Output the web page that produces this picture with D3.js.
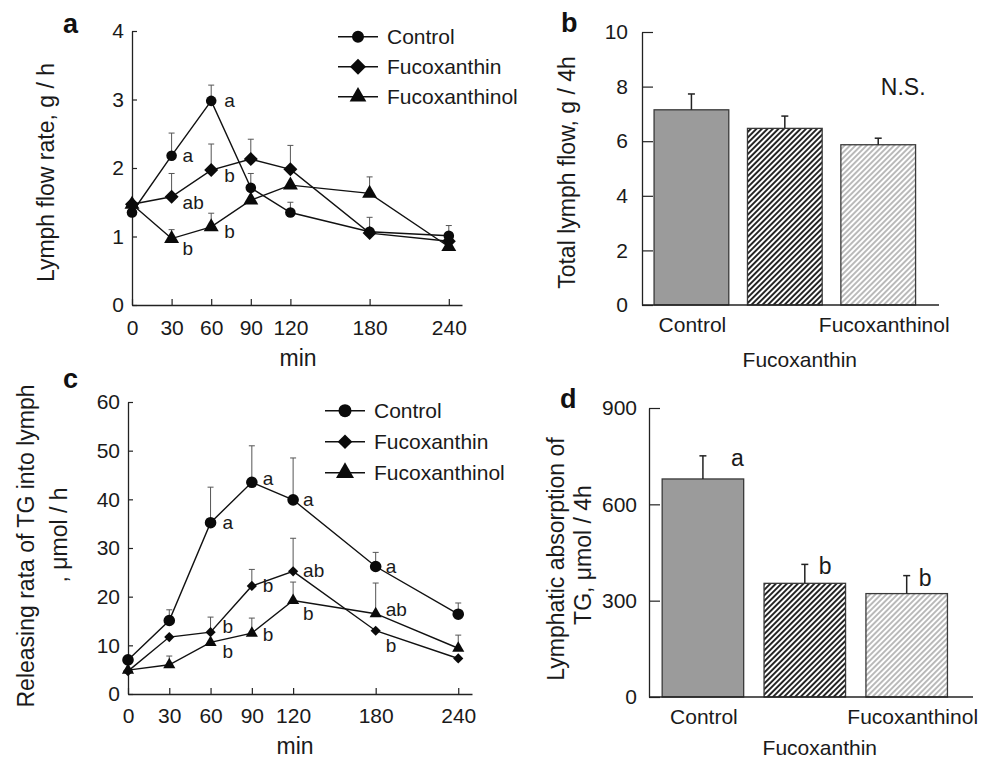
<!DOCTYPE html>
<html>
<head>
<meta charset="utf-8">
<script src="https://cdn.jsdelivr.net/npm/d3@7"></script>
<style>
  body { margin: 0; background: white; }
</style>
</head>
<body>
<div id="fig"></div>
<script>
// ---- data ----
var times = [0, 30, 60, 90, 120, 180, 240]
var groups = ["Control", "Fucoxanthin", "Fucoxanthinol"]

// a: lymph flow rate, g / h (mean and upper SE)
var flowControl = [1.35, 2.18, 2.98, 1.71, 1.35, 1.07, 1.01]
var flowControlSe = [0, 0.33, 0.23, 0.21, 0.15, 0, 0.15]
var flowFucox = [1.47, 1.58, 1.97, 2.13, 1.98, 1.05, 0.93]
var flowFucoxSe = [0, 0.34, 0.38, 0.29, 0.35, 0.23, 0]
var flowFucoxol = [1.47, 0.97, 1.14, 1.53, 1.75, 1.63, 0.85]
var flowFucoxolSe = [0, 0.13, 0.2, 0, 0, 0.24, 0]
var flowTicks = [0, 1, 2, 3, 4]
var flowLetters = [["Control", 30, "a"], ["Control", 60, "a"], ["Fucoxanthin", 30, "ab"],
                   ["Fucoxanthin", 60, "b"], ["Fucoxanthinol", 30, "b"], ["Fucoxanthinol", 60, "b"]]

// b: total lymph flow, g / 4h
var totalFlow = [7.15, 6.47, 5.87]
var totalFlowSe = [0.58, 0.45, 0.24]
var totalTicks = [0, 2, 4, 6, 8, 10]

// c: releasing rate of TG into lymph, umol / h
var tgControl = [7.0, 15.1, 35.2, 43.5, 39.9, 26.2, 16.4]
var tgControlSe = [0, 2.2, 7.3, 7.5, 8.6, 2.9, 2.3]
var tgFucox = [4.7, 11.7, 12.7, 22.2, 25.2, 13.0, 7.3]
var tgFucoxSe = [0, 0, 3.1, 3.4, 6.8, 0, 0]
var tgFucoxol = [4.9, 6.0, 10.6, 12.5, 19.2, 16.5, 9.4]
var tgFucoxolSe = [0, 1.8, 0, 3.1, 3.8, 6.3, 2.7]
var tgTicks = [0, 10, 20, 30, 40, 50, 60]
var tgLetters = [["Control", 60, "a"], ["Control", 90, "a"], ["Control", 120, "a"], ["Control", 180, "a"],
                 ["Fucoxanthin", 60, "b"], ["Fucoxanthin", 90, "b"], ["Fucoxanthin", 120, "ab"], ["Fucoxanthin", 180, "b"],
                 ["Fucoxanthinol", 60, "b"], ["Fucoxanthinol", 90, "b"], ["Fucoxanthinol", 120, "b"], ["Fucoxanthinol", 180, "ab"]]

// d: lymphatic absorption of TG, umol / 4h
var tgAbsorb = [679, 354, 322]
var tgAbsorbSe = [72, 59, 56]
var absorbTicks = [0, 300, 600, 900]
var absorbLetters = ["a", "b", "b"]

// ---- drawing ----
var font = '"Liberation Sans", Arial, Helvetica, sans-serif'
var ink = "#1a1a1a"

var svg = d3.select("#fig")
  .append("svg")
    .attr("width", 992)
    .attr("height", 760)
    .style("background-color", "white")

var defs = svg.append("defs")
function hatch(id, color) {
  var p = defs.append("pattern")
      .attr("id", id)
      .attr("patternUnits", "userSpaceOnUse")
      .attr("width", 3.9)
      .attr("height", 10)
      .attr("patternTransform", "rotate(45)")
  p.append("rect").attr("width", 3.9).attr("height", 10).attr("fill", "white")
  p.append("line").attr("x1", 1.95).attr("x2", 1.95).attr("y1", 0).attr("y2", 10)
      .attr("stroke", color).attr("stroke-width", 1.9)
}
hatch("hatchDark", "#1e1e1e")
hatch("hatchLight", "#b8b8b8")

var barFills = ["#9b9b9b", "url(#hatchDark)", "url(#hatchLight)"]

function styleAxis(g, size) {
  g.select(".domain").attr("stroke", "#222").attr("stroke-width", 1.3)
  g.selectAll(".tick line").attr("stroke", "#222").attr("stroke-width", 1.2)
  g.selectAll(".tick text").attr("font-size", size).attr("font-family", font).attr("fill", ink)
}

// area is the symbol area in px^2
function drawMarker(sel, shape, area) {
  if (shape == "circle") {
    sel.append("path").attr("d", d3.symbol(d3.symbolCircle, area)())
  } else if (shape == "diamond") {
    sel.append("path").attr("d", d3.symbol(d3.symbolSquare, area)()).attr("transform", "rotate(45)")
  } else {
    sel.append("path").attr("d", d3.symbol(d3.symbolTriangle, area)())
  }
}

function panelLabel(t, x, y) {
  svg.append("text").attr("x", x).attr("y", y).text(t)
    .attr("font-family", font).attr("font-weight", "bold").attr("font-size", 27).attr("fill", "#111")
}

function yTitle(lines, x, y, size) {
  lines.forEach(function(l, i) {
    svg.append("text")
      .attr("transform", "translate(" + x[i] + "," + y[i] + ") rotate(-90)")
      .attr("text-anchor", "middle")
      .attr("font-family", font).attr("font-size", size).attr("fill", ink)
      .text(l)
  })
}

// line chart panel
function linePanel(o) {
  var x = d3.scaleLinear().domain([0, 250]).range(o.xr)
  var y = d3.scaleLinear().domain([0, o.ymax]).range(o.yr)
  var g = svg.append("g")

  g.append("g").attr("transform", "translate(0," + y(0) + ")")
    .call(d3.axisBottom(x).tickValues(times).tickFormat(d3.format("d")).tickSizeInner(-6).tickSizeOuter(0).tickPadding(o.xpad))
    .call(styleAxis, 21)
  g.append("g").attr("transform", "translate(" + x(0) + ",0)")
    .call(d3.axisLeft(y).tickValues(o.yticks).tickFormat(d3.format("d")).tickSizeInner(-5).tickSizeOuter(0).tickPadding(8))
    .call(styleAxis, 21)

  var line = d3.line().x(function(d) { return x(d[0]) }).y(function(d) { return y(d[1]) })

  o.series.forEach(function(s) {
    var pts = times.map(function(t, i) { return [t, s.values[i], s.se[i]] })
    // error bars (upper only)
    pts.filter(function(d) { return d[2] > 0 }).forEach(function(d) {
      g.append("line").attr("x1", x(d[0])).attr("x2", x(d[0]))
        .attr("y1", y(d[1])).attr("y2", y(d[1] + d[2]))
        .attr("stroke", "#555").attr("stroke-width", 1)
      g.append("line").attr("x1", x(d[0]) - 3).attr("x2", x(d[0]) + 3)
        .attr("y1", y(d[1] + d[2])).attr("y2", y(d[1] + d[2]))
        .attr("stroke", "#555").attr("stroke-width", 1)
    })
    g.append("path").datum(pts).attr("d", line)
      .attr("fill", "none").attr("stroke", "#111").attr("stroke-width", 1.4)
  })
  o.series.forEach(function(s, k) {
    times.forEach(function(t, i) {
      var m = g.append("g").attr("transform", "translate(" + x(t) + "," + y(s.values[i]) + ")").attr("fill", "#0a0a0a")
      drawMarker(m, s.shape, o.markerArea[k])
    })
  })

  // significance letters
  o.letters.forEach(function(l, k) {
    var s = o.series.filter(function(d) { return d.name == l[0] })[0]
    var i = times.indexOf(l[1])
    g.append("text")
      .attr("x", x(l[1]) + o.nudges[k][0])
      .attr("y", y(s.values[i]) + o.nudges[k][1])
      .attr("dy", "0.32em")
      .attr("font-family", font).attr("font-size", 19).attr("fill", ink)
      .text(l[2])
  })

  // legend
  o.series.forEach(function(s, i) {
    var ly = o.legend.y + i * o.legend.step
    g.append("line").attr("x1", o.legend.x).attr("x2", o.legend.x + 40).attr("y1", ly).attr("y2", ly)
      .attr("stroke", "#111").attr("stroke-width", 1.4)
    var m = g.append("g").attr("transform", "translate(" + (o.legend.x + 20) + "," + ly + ")").attr("fill", "#0a0a0a")
    drawMarker(m, s.shape, o.legendArea[i])
    g.append("text").attr("x", o.legend.x + 49).attr("y", ly).attr("dy", "0.35em")
      .attr("font-family", font).attr("font-size", 21).attr("fill", ink)
      .text(s.name)
  })

  g.append("text").attr("x", o.xtitle[0]).attr("y", o.xtitle[1]).attr("text-anchor", "middle")
    .attr("font-family", font).attr("font-size", 23).attr("fill", ink).text("min")
}

// bar chart panel
function barPanel(o) {
  var x = d3.scaleBand().domain(groups).range(o.xr).paddingInner(0.2).paddingOuter(0.19).align(0.34)
  var y = d3.scaleLinear().domain([0, o.ymax]).range(o.yr)
  var g = svg.append("g")

  g.selectAll("rect.bar")
    .data(groups)
    .enter()
    .append("rect")
      .attr("class", "bar")
      .attr("x", function(d) { return x(d) })
      .attr("width", x.bandwidth())
      .attr("y", function(d, i) { return y(o.values[i]) })
      .attr("height", function(d, i) { return y(0) - y(o.values[i]) })
      .attr("fill", function(d, i) { return barFills[i] })
      .attr("stroke", "#3a3a3a")
      .attr("stroke-width", 1.3)

  groups.forEach(function(d, i) {
    var cx = x(d) + x.bandwidth() / 2
    var top = y(o.values[i] + o.se[i])
    g.append("line").attr("x1", cx).attr("x2", cx).attr("y1", y(o.values[i])).attr("y2", top)
      .attr("stroke", "#222").attr("stroke-width", 1.5)
    g.append("line").attr("x1", cx - 3.5).attr("x2", cx + 3.5).attr("y1", top).attr("y2", top)
      .attr("stroke", "#222").attr("stroke-width", 1.5)
    if (o.letters) {
      g.append("text").attr("x", cx + o.letterDx[i]).attr("y", top + 10)
        .attr("font-family", font).attr("font-size", 23).attr("fill", ink).text(o.letters[i])
    }
  })

  g.append("g").attr("transform", "translate(" + o.xr[0] + ",0)")
    .call(d3.axisLeft(y).tickValues(o.yticks).tickFormat(d3.format("d")).tickSizeInner(-11).tickSizeOuter(0).tickPadding(o.ypad))
    .call(styleAxis, 21)
  g.append("line").attr("x1", o.xr[0]).attr("x2", o.xr[1]).attr("y1", y(0)).attr("y2", y(0))
    .attr("stroke", "#222").attr("stroke-width", 1.3)

  // category labels, middle one on a second row
  var labelDx = [1, 15, 6]
  groups.forEach(function(d, i) {
    g.append("text")
      .attr("x", x(d) + x.bandwidth() / 2 + labelDx[i])
      .attr("y", y(0) + (i == 1 ? o.row2 : 27))
      .attr("text-anchor", "middle")
      .attr("font-family", font).attr("font-size", 21).attr("fill", ink)
      .text(d)
  })
  return { x: x, y: y, g: g }
}

// ---- panel a ----
linePanel({
  xr: [132, 462], yr: [305, 31], ymax: 4, yticks: flowTicks, xpad: 15,
  markerArea: [88, 98, 97], legendArea: [113, 128, 121],
  series: [
    { name: "Control", shape: "circle", values: flowControl, se: flowControlSe },
    { name: "Fucoxanthin", shape: "diamond", values: flowFucox, se: flowFucoxSe },
    { name: "Fucoxanthinol", shape: "triangle", values: flowFucoxol, se: flowFucoxolSe }
  ],
  letters: flowLetters,
  nudges: [[11, 0], [13, 0], [11, 6], [13, 6], [11, 10], [13, 5]],
  legend: { x: 338, y: 36.7, step: 30 },
  xtitle: [298, 366]
})
panelLabel("a", 63, 33)
yTitle(["Lymph flow rate, g / h"], [53.5], [172.5], 23)

// ---- panel b ----
var pb = barPanel({
  xr: [642, 939], yr: [305, 32], ymax: 10, yticks: totalTicks, ypad: 14,
  values: totalFlow, se: totalFlowSe, row2: 62
})
pb.g.append("text").attr("x", pb.x("Fucoxanthinol") + pb.x.bandwidth() / 2 + 25).attr("y", pb.y(8))
  .attr("dy", "0.35em").attr("text-anchor", "middle")
  .attr("font-family", font).attr("font-size", 23).attr("fill", ink).text("N.S.")
panelLabel("b", 561, 32)
yTitle(["Total lymph flow, g / 4h"], [575], [172.5], 23)

// ---- panel c ----
linePanel({
  xr: [128, 472], yr: [694, 402], ymax: 60, yticks: tgTicks, xpad: 14,
  markerArea: [106, 52, 64], legendArea: [133, 107, 140],
  series: [
    { name: "Control", shape: "circle", values: tgControl, se: tgControlSe },
    { name: "Fucoxanthin", shape: "diamond", values: tgFucox, se: tgFucoxSe },
    { name: "Fucoxanthinol", shape: "triangle", values: tgFucoxol, se: tgFucoxolSe }
  ],
  letters: tgLetters,
  nudges: [[12, 0], [11, -3], [10, 0], [10, 0], [12, -5], [11, 0], [10, 0], [10, 15],
           [12, 10], [11, 2], [10, 13], [10, -4]],
  legend: { x: 325, y: 410.7, step: 31 },
  xtitle: [295, 754]
})
panelLabel("c", 63, 388)
yTitle(["Releasing rata of TG into lymph", ", \u03bcmol / h"], [33.5, 66.5], [546, 535], 23)

// ---- panel d ----
barPanel({
  xr: [649, 973], yr: [697, 408], ymax: 900, yticks: absorbTicks, ypad: 12,
  values: tgAbsorb, se: tgAbsorbSe, row2: 58,
  letters: absorbLetters, letterDx: [28, 14, 12]
})
panelLabel("d", 560, 408)
yTitle(["Lymphatic absorption of", "TG, \u03bcmol / 4h"], [563.5, 591], [559, 555], 23)
</script>
</body>
</html>
